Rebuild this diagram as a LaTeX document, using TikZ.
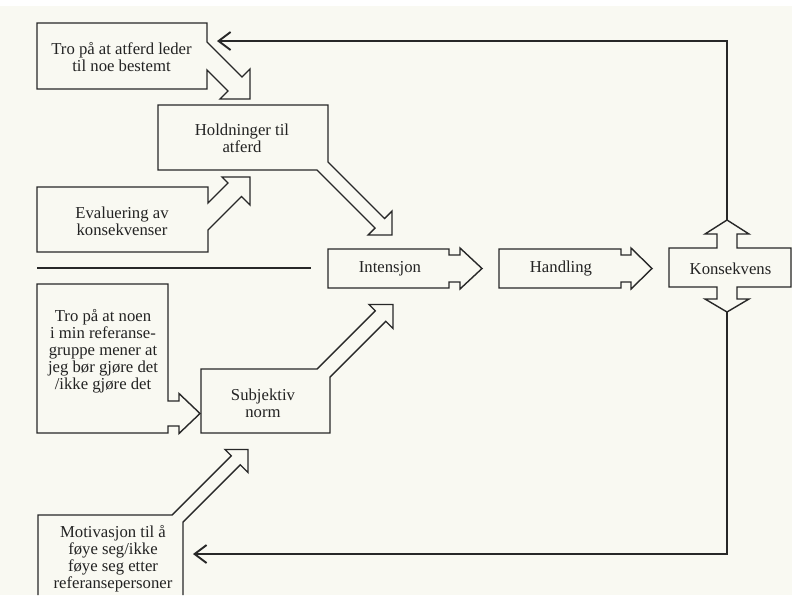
\documentclass[tikz,border=0pt]{standalone}
\usepackage{fontspec}
\setmainfont{Liberation Serif}
\usetikzlibrary{arrows.meta}
\definecolor{paper}{RGB}{249,249,242}
\definecolor{ink}{RGB}{40,40,40}
\definecolor{lettering}{RGB}{35,35,35}
\begin{document}
\begin{tikzpicture}[x=1pt,y=-1pt,
  outline/.style={draw=ink, line width=1.4pt, line join=miter},
  label/.style={align=center, inner sep=0pt, text=lettering,
                font=\fontsize{16.7}{17}\selectfont},
  feedback/.style={draw=ink, line width=1.9pt, line join=miter,
                   -{Straight Barb[length=12pt,width=18pt]}},
]
% paper
\fill[paper] (0,0) rectangle (792,595);
\fill[white] (0,0) rectangle (792,6);
\useasboundingbox (0,0) rectangle (792,595);

% --- attitude branch ---------------------------------------------------
% belief box with arrow down-right into the attitude box
\draw[outline] (37,23) -- (207,23) -- (207,42) -- (242,77) -- (250,69)
  -- (250,99) -- (220,99) -- (228,91) -- (207,70) -- (207,89) -- (37,89) -- cycle;
\node[label] (tro) at (121.5,57) {Tro på at atferd leder\\til noe bestemt};

% attitude box with arrow down-right into intention
\draw[outline] (158,105) -- (328,105) -- (328,162) -- (384.5,218.5) -- (392,211)
  -- (392,235) -- (368,235) -- (375,228) -- (317,170) -- (158,170) -- cycle;
\node[label] (hold) at (242,138) {Holdninger til\\atferd};

% evaluation box with arrow up-right into the attitude box
\draw[outline] (37,187) -- (208,187) -- (208,203) -- (228,183) -- (222,177)
  -- (250,177) -- (250,205) -- (241.5,196.5) -- (208,230) -- (208,252) -- (37,252) -- cycle;
\node[label] (eval) at (122,221) {Evaluering av\\konsekvenser};

% separator between the two branches
\draw[ink, line width=2.3pt] (37,268) -- (311,268);

% --- main chain -------------------------------------------------------
\draw[outline] (328,249) -- (449,249) -- (449,255) -- (460,255) -- (460,248)
  -- (482,268.5) -- (460,289) -- (460,282) -- (449,282) -- (449,288) -- (328,288) -- cycle;
\node[label] (int) at (390,268.5) {Intensjon};

\draw[outline] (499,249) -- (621,249) -- (621,255) -- (631,255) -- (631,248)
  -- (652,268.5) -- (631,289) -- (631,282) -- (621,282) -- (621,288) -- (499,288) -- cycle;
\node[label] (hand) at (561,268.5) {Handling};

\draw[outline] (669,248) -- (717,248) -- (717,234) -- (705,234) -- (727,220)
  -- (749,234) -- (737,234) -- (737,248) -- (791,248) -- (791,287) -- (737,287)
  -- (737,299) -- (749,299) -- (727,312) -- (705,299) -- (717,299) -- (717,287)
  -- (669,287) -- cycle;
\node[label] (kons) at (730.5,268.5) {Konsekvens};

% --- norm branch ------------------------------------------------------
\draw[outline] (37,284) -- (168,284) -- (168,401) -- (179,401) -- (179,393.5)
  -- (200,413.5) -- (179,433.5) -- (179,426) -- (168,426) -- (168,433) -- (37,433) -- cycle;
\node[label] (noen) at (103,351.5) {Tro på at noen\\i min referanse-\\gruppe mener at\\jeg bør gjøre det\\/ikke gjøre det};

\draw[outline] (201,369) -- (317,369) -- (375.25,310.75) -- (369,304.5) -- (393,304.5)
  -- (393,328.5) -- (385.75,321.25) -- (330,377) -- (330,433) -- (201,433) -- cycle;
\node[label] (norm) at (263,403) {Subjektiv\\norm};

\draw[outline] (38,595) -- (38,515) -- (172,515) -- (231.25,455.75) -- (225,449.5)
  -- (248,449.5) -- (248,472.5) -- (240.25,464.75) -- (183,522) -- (183,595);
\node[label] (motiv) at (113,559.2) {Motivasjon til å\\føye seg/ikke\\føye seg etter\\referansepersoner};

% --- feedback from consequences --------------------------------------
\coordinate (konsUp) at (727,220);
\coordinate (konsDown) at (727,312);
\coordinate (troEnd) at (217,41);
\coordinate (motivEnd) at (193,554);
\draw[feedback] (konsUp) |- (troEnd);
\draw[feedback] (konsDown) |- (motivEnd);
\end{tikzpicture}
\end{document}
